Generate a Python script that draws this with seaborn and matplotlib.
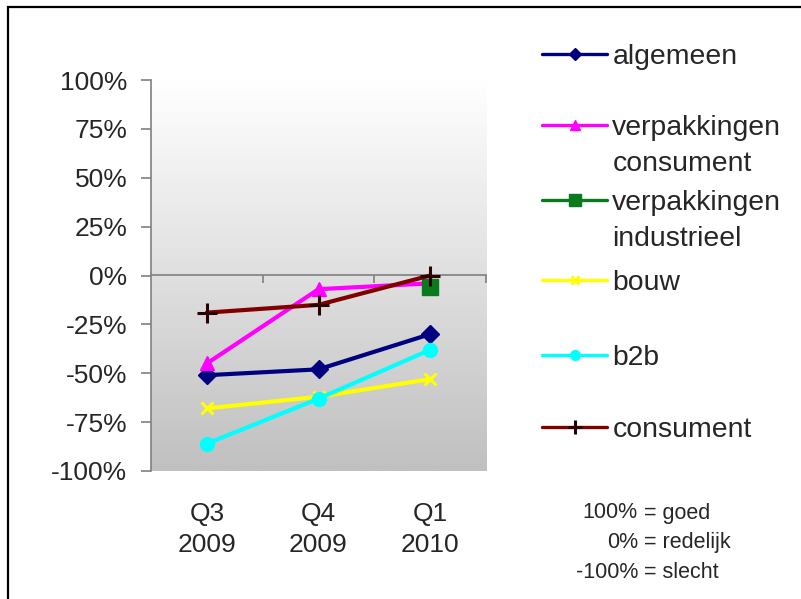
import numpy as np
import matplotlib.pyplot as plt
import seaborn as sns
from matplotlib.colors import LinearSegmentedColormap
from matplotlib.patches import Rectangle
from matplotlib.ticker import PercentFormatter

# Data
kwartalen = ['Q3\n2009', 'Q4\n2009', 'Q1\n2010']
reeksen = ['algemeen', 'verpakkingen\nconsument', 'verpakkingen\nindustrieel',
           'bouw', 'b2b', 'consument']
algemeen = [-51, -48, -30]
verp_consument = [-45, -7, -4]
verp_industrieel = [np.nan, np.nan, -6]
bouw = [-68, -62, -53]
b2b = [-86, -63, -38]
consument = [-19, -15, 0]
y_ticks = [-100, -75, -50, -25, 0, 25, 50, 75, 100]
schaal_pct = ['100%', '0%', '-100%']
schaal_tekst = ['= goed', '= redelijk', '= slecht']

waarden = [algemeen, verp_consument, verp_industrieel, bouw, b2b, consument]

# Styling
kleuren = ['#000080', '#ff00ff', '#0a7a1e', '#ffff00', '#00ffff', '#800000']
rand = ['#000080', '#ff00ff', '#0a7a1e', '#ffff00', '#00ffff', '#2a0000']
markers = ['D', '^', 's', 'x', 'o', '+']
msizes = [9, 10, 12, 8, 10, 14]
legend_y = [57, 128, 203, 283, 358, 430]
GRIJS = '#808080'
W, H = 801, 599

sns.set_style('white')
plt.rcParams['font.family'] = ['Liberation Sans', 'DejaVu Sans']
plt.rcParams['axes.unicode_minus'] = False

fig = plt.figure(figsize=(W / 100, H / 100), dpi=100)
rect = [151 / W, 1 - 471 / H, (486 - 151) / W, (471 - 80) / H]

# gradient background of the plot area
bg = fig.add_axes(rect, zorder=0)
cmap = LinearSegmentedColormap.from_list('grad', ['#ffffff', '#c0c0c0'])
bg.imshow(np.linspace(0, 1, 256).reshape(-1, 1), cmap=cmap, aspect='auto',
          extent=[0, 1, 0, 1])
bg.axis('off')

ax = fig.add_axes(rect, zorder=1)
ax.patch.set_visible(False)

handles = []
for naam, vals, c, ec, m, ms in zip(reeksen, waarden, kleuren, rand, markers, msizes):
    sns.lineplot(x=kwartalen, y=vals, ax=ax, color=c, marker=m, markersize=ms,
                 linewidth=3, markeredgecolor=ec,
                 markeredgewidth=2.2 if m in ('x', '+') else 1,
                 sort=False, label=naam)
    handles.append(ax.lines[-1])
if ax.get_legend() is not None:
    ax.get_legend().remove()

ax.set_xlim(-0.5, 2.5)
ax.set_ylim(-100, 100)
ax.set_yticks(y_ticks)
ax.yaxis.set_major_formatter(PercentFormatter(decimals=0))
ax.set_xlabel('')
ax.set_ylabel('')
for s in ['top', 'right', 'bottom']:
    ax.spines[s].set_visible(False)
ax.spines['left'].set_color(GRIJS)
ax.spines['left'].set_linewidth(1.2)
ax.tick_params(axis='y', direction='out', length=7, width=1.2, color=GRIJS,
               labelsize=19, pad=10, left=True)
ax.tick_params(axis='x', length=0, labelsize=19, pad=22)
for t in ax.get_xticklabels():
    t.set_linespacing(1.4)

# zero line with category boundary ticks
sec = ax.secondary_xaxis(0.5)
sec.set_alignment('bottom')
sec.set_xticks([0.5, 1.5, 2.5])
sec.tick_params(direction='out', length=6, width=1.2, color=GRIJS, labelbottom=False)
sec.spines['bottom'].set_color(GRIJS)
sec.spines['bottom'].set_linewidth(1.2)

# legend, one entry each so the handle sits on the first text line
fs_leg = 20.4
hl, htp = 2.3, 0.18
x0 = 542
for h, naam, ly, ms in zip(handles, reeksen, legend_y, msizes):
    regels = naam.split('\n')
    leg = fig.legend([h], [regels[0]], loc='center left',
                     bbox_to_anchor=(x0 / W, 1 - ly / H), frameon=False,
                     borderpad=0, borderaxespad=0, handlelength=hl,
                     handletextpad=htp, fontsize=fs_leg)
    lh = leg.legend_handles[0]
    lh.set_linewidth(2.4)
    lh.set_markersize(ms * 0.7)
    if len(regels) > 1:
        tx = x0 + (hl + htp) * fs_leg * 100 / 72
        fig.text(tx / W, 1 - (ly + 36) / H, regels[1], fontsize=fs_leg,
                 va='center', ha='left')

# scale explanation
for i, (p, t) in enumerate(zip(schaal_pct, schaal_tekst)):
    yy = 1 - (513 + 29.5 * i) / H
    fig.text(638 / W, yy, p, fontsize=15.5, ha='right', va='center')
    fig.text(644 / W, yy, t, fontsize=15.5, ha='left', va='center')

# outer frame (top and left edges visible)
fig.add_artist(Rectangle((8 / W, -0.2), 1.2, 1.2 - 7 / H, transform=fig.transFigure,
                         fill=False, edgecolor='black', linewidth=1.6))

fig.savefig('out.png', dpi=100)
